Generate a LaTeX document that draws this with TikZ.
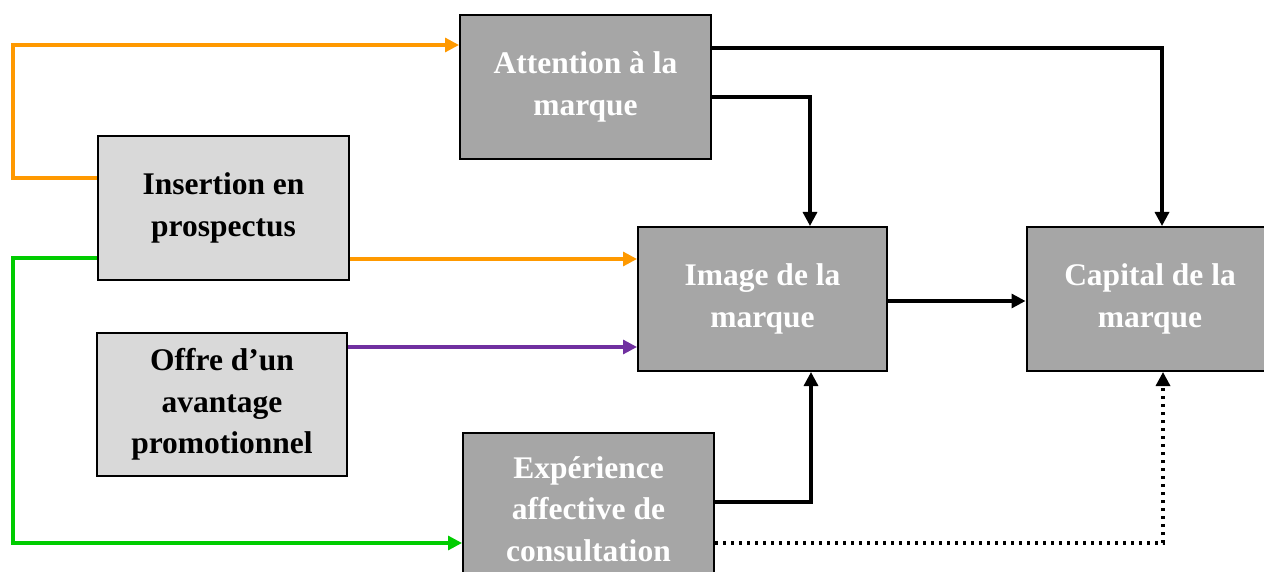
\documentclass[tikz,border=0pt]{standalone}
\usepackage{fontspec}
\newfontfamily\boxfont{Liberation Serif}
\usetikzlibrary{arrows.meta}
\definecolor{darkbox}{HTML}{A6A6A6}
\definecolor{lightbox}{HTML}{D9D9D9}
\definecolor{orangeline}{HTML}{FF9900}
\definecolor{greenline}{HTML}{00CC00}
\definecolor{purpleline}{HTML}{7030A0}
\tikzset{
  boxbase/.style={draw=black, line width=2pt, align=center, inner sep=0pt,
    font=\boxfont\bfseries\fontsize{31.5}{41.5}\selectfont},
  darkb/.style={boxbase, fill=darkbox, text=white},
  lightb/.style={boxbase, fill=lightbox, text=black},
  conn/.style={line width=3.2pt, -{Triangle[length=14pt,width=14pt]}},
}
\begin{document}
\begin{tikzpicture}[x=1pt,y=-1pt]
\useasboundingbox (0,0) rectangle (1264,572);
\node[darkb, minimum width=251pt, minimum height=144pt] (att) at (585.5,87) {Attention à la\\marque};
\node[lightb, minimum width=251pt, minimum height=144pt] (ins) at (223.5,208) {Insertion en\\prospectus};
\node[lightb, minimum width=250pt, minimum height=143pt] (off) at (222,404.5) {Offre d’un\\avantage\\promotionnel};
\node[darkb, minimum width=249pt, minimum height=144pt] (img) at (762.5,299) {Image de la\\marque};
\node[darkb, minimum width=247pt, minimum height=144pt] (cap) at (1150,299) {Capital de la\\marque};
\node[darkb, minimum width=251pt, minimum height=152pt] (exp) at (588.5,509) {Expérience\\affective de\\consultation};

\draw[conn, orangeline] ([yshift=30pt]ins.west) -| (13,45) -- ([yshift=42pt]att.west);
\draw[conn, orangeline] ([yshift=-51pt]ins.east) -- ([yshift=40pt]img.west);
\draw[conn, greenline] ([yshift=-50pt]ins.west) -| (13,543) -- ([yshift=-34pt]exp.west);
\draw[conn, purpleline] ([yshift=57.5pt]off.east) -- ([yshift=-48pt]img.west);
\draw[conn, black] ([yshift=39pt]att.east) -| ([xshift=12pt]cap.north);
\draw[conn, black] ([yshift=-10pt]att.east) -| ([xshift=47.5pt]img.north);
\draw[conn, black] ([yshift=-2pt]img.east) -- ([yshift=-2pt]cap.west);
\draw[conn, black] ([yshift=7pt]exp.east) -| ([xshift=48.5pt]img.south);
\draw[conn, black, dash pattern=on 3pt off 5pt] ([yshift=-34pt]exp.east) -| ([xshift=13pt]cap.south);
\end{tikzpicture}
\end{document}
